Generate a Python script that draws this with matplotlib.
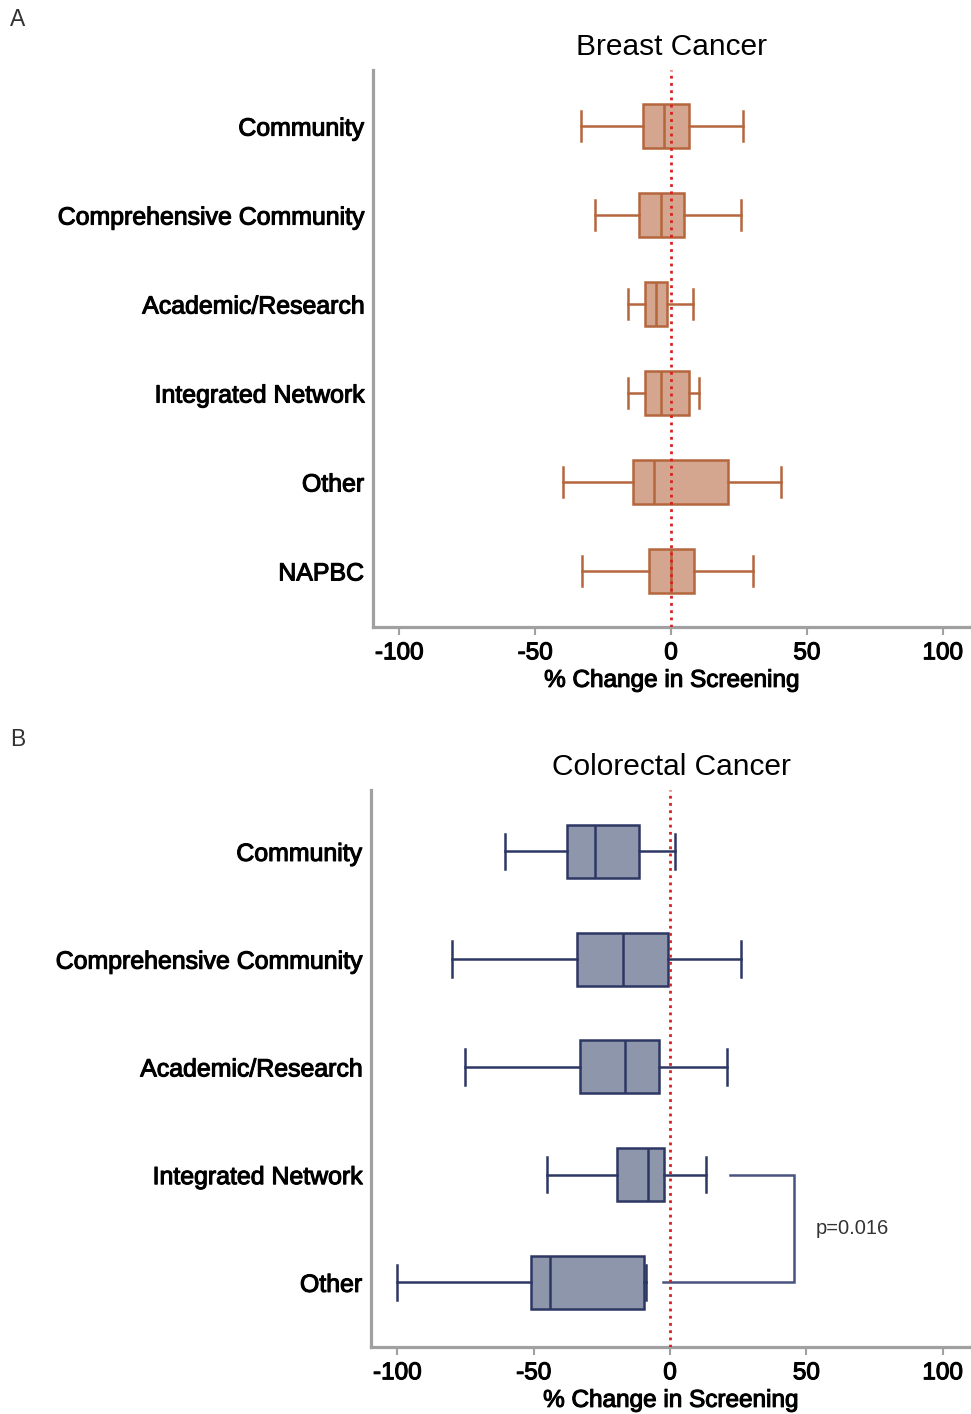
import matplotlib
matplotlib.use("Agg")
import matplotlib.pyplot as plt
import matplotlib.patheffects as pe

plt.rcParams['font.family'] = ['Liberation Sans', 'DejaVu Sans']

# Panel A - breast cancer
breast_cats = ['Community', 'Comprehensive Community', 'Academic/Research',
               'Integrated Network', 'Other', 'NAPBC']
breast_lo = [-33.3, -27.9, -15.7, -16.0, -39.7, -32.9]
breast_q1 = [-10.3, -11.7, -9.7, -9.6, -13.9, -8.3]
breast_med = [-2.6, -3.6, -5.4, -3.6, -6.4, 0.0]
breast_q3 = [6.6, 4.7, -1.6, 6.7, 21.0, 8.3]
breast_hi = [26.3, 25.6, 8.0, 10.4, 40.6, 30.1]

# Panel B - colorectal cancer
crc_cats = ['Community', 'Comprehensive Community', 'Academic/Research',
            'Integrated Network', 'Other']
crc_lo = [-60.4, -80.0, -75.1, -45.0, -100.0]
crc_q1 = [-37.9, -34.1, -32.9, -19.3, -51.0]
crc_med = [-27.4, -17.3, -16.4, -8.1, -43.9]
crc_q3 = [-11.4, -0.9, -4.0, -2.4, -9.6]
crc_hi = [1.9, 25.9, 21.0, 13.0, -9.0]

# significance bracket between Integrated Network and Other (colorectal)
bracket_x = [22.0, 45.5, 45.5, -2.7]
bracket_rows = [3, 3, 4, 4]
p_text = 'p=0.016'

xticks = [-100, -50, 0, 50, 100]
W, H = 971, 1414

fig = plt.figure(figsize=(W / 100, H / 100), dpi=100)
stroke = [pe.withStroke(linewidth=0.8, foreground='black')]


def panel(rect, cats, lo, q1, med, q3, hi, fill, edge, ylim, title, title_y, letter, letter_y):
    ax = fig.add_axes(rect)
    stats = [dict(whislo=a, q1=b, med=c, q3=d, whishi=e, fliers=[])
             for a, b, c, d, e in zip(lo, q1, med, q3, hi)]
    lw = 1.8
    ax.bxp(stats, positions=list(range(len(cats))), vert=False, widths=0.49,
           capwidths=0.33, patch_artist=True, showfliers=False,
           boxprops=dict(facecolor=fill, edgecolor=edge, linewidth=lw),
           medianprops=dict(color=edge, linewidth=lw),
           whiskerprops=dict(color=edge, linewidth=lw),
           capprops=dict(color=edge, linewidth=lw), zorder=2)
    ax.axvline(0, color='#d92020', linestyle=(0, (1, 1.6)), linewidth=2.0, zorder=3)
    ax.set_xlim(-109.7, 110)
    ax.set_ylim(*ylim)
    ax.set_yticks(range(len(cats)))
    ax.set_yticklabels(cats, fontsize=17.9, path_effects=stroke)
    ax.set_xticks(xticks)
    ax.set_xticklabels([str(t) for t in xticks], fontsize=17.5, path_effects=stroke)
    ax.tick_params(axis='y', length=0, pad=6.5)
    ax.tick_params(axis='x', length=5.5, width=1.5, color='#a0a0a0', pad=5.5)
    for s in ['top', 'right']:
        ax.spines[s].set_visible(False)
    for s in ['left', 'bottom']:
        ax.spines[s].set_color('#a0a0a0')
        ax.spines[s].set_linewidth(2.3)
    ax.set_xlabel('% Change in Screening', fontsize=17.5, labelpad=4, path_effects=stroke)
    fig.text(671 / W, 1 - title_y / H, title, fontsize=21.5, ha='center', va='center')
    fig.text(10 / W, 1 - letter_y / H, letter, fontsize=16.5, color='#333333', ha='left', va='center')
    return ax


axA = panel([373 / W, 1 - 627 / H, 597 / W, 557 / H], breast_cats,
            breast_lo, breast_q1, breast_med, breast_q3, breast_hi,
            '#d4a68f', '#b5663d', (5.63, -0.63), 'Breast Cancer', 47, 'A', 20)

axB = panel([371 / W, 1 - 1347 / H, 599 / W, 557 / H], crc_cats,
            crc_lo, crc_q1, crc_med, crc_q3, crc_hi,
            '#8e96ac', '#2d3764', (4.6, -0.57), 'Colorectal Cancer', 767, 'B', 740)

axB.plot(bracket_x, bracket_rows, color='#4a5280', linewidth=1.8, zorder=2,
         solid_joinstyle='miter')
axB.text(53.5, sum(bracket_rows[1:3]) / 2, p_text, fontsize=14.5, color='#333333',
         ha='left', va='center')

fig.savefig('out.png', dpi=100)
